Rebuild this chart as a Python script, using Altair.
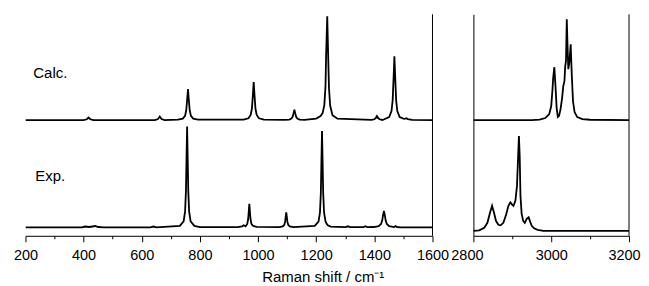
import altair as alt
import pandas as pd

FONT = "Liberation Sans"

# ---- Calculated spectrum, 200-1600 cm-1 (offset trace) ----
calc_low_x = [200, 400, 411, 417, 423, 434,
              645, 656, 662, 668, 679,
              724, 741, 749, 753, 756, 759, 762, 765, 769, 777, 794,
              950, 967, 975, 979, 982, 985, 988, 991, 995, 1003, 1020,
              1090, 1107, 1115, 1119, 1122, 1125, 1128, 1131, 1135, 1143, 1160,
              1200, 1215, 1222, 1228, 1232, 1234, 1236, 1238, 1241, 1244, 1248, 1256, 1273,
              1390, 1400, 1405, 1409, 1413, 1418, 1428,
              1434, 1451, 1459, 1463, 1466, 1469, 1472, 1475, 1479, 1487, 1500,
              1505, 1510, 1515, 1530, 1600]
calc_low_y = [116, 116, 116.8, 118.5, 116.8, 116,
              116, 117, 119.5, 117, 116,
              116.4, 117.5, 120.3, 125.6, 135.8, 147, 135.8, 125.6, 120.3, 117.5, 116.4,
              116.5, 117.8, 121.3, 127.8, 140.3, 154, 140.3, 127.8, 121.3, 117.8, 116.5,
              116.1, 116.5, 117.5, 119.3, 122.7, 126.5, 122.7, 119.3, 117.5, 116.5, 116.1,
              117.5, 120, 123, 131, 150, 180, 200, 220, 182.6, 148, 130.6, 120.9, 117.4,
              116.1, 116.8, 118, 120, 118, 116.8, 116.1,
              116.8, 119, 125, 135.8, 157, 180, 157, 135.8, 125, 119, 117.5,
              117.3, 117.8, 117, 116.2, 116]

# ---- Experimental spectrum, 200-1600 cm-1 ----
exp_low_x = [200, 395, 405, 420, 440, 450, 470, 630, 640, 650,
             731, 744, 749, 752, 754, 756, 758, 760, 763, 768, 781,
             800, 930, 945, 951, 957,
             960, 963, 966, 968, 970, 972, 974, 977, 982, 995,
             1072, 1085, 1090, 1093, 1095, 1097, 1099, 1101, 1104, 1109, 1122,
             1195, 1208, 1213, 1216, 1218, 1220, 1222, 1224, 1227, 1232, 1236, 1240, 1250,
             1300, 1310, 1316, 1362, 1369, 1376,
             1398, 1415, 1423, 1427, 1430, 1433, 1436, 1439, 1443, 1451, 1468,
             1473, 1478, 1490, 1600]
exp_low_y = [8.5, 8.5, 9.3, 8.8, 9.8, 8.8, 8.5, 8.5, 9.3, 8.5,
             9.9, 14.5, 24.2, 44.9, 78.2, 109.5, 78.2, 44.9, 24.2, 14.5, 9.9,
             8.6, 8.6, 9.5, 10.5, 9.5,
             10.5, 12.1, 16.8, 24.4, 32, 24.4, 16.8, 12.1, 10, 8.9,
             8.7, 9.4, 10.8, 13.9, 18.9, 23.5, 18.9, 13.9, 10.8, 9.4, 8.7,
             10, 14.3, 23.5, 43.2, 75, 105, 75, 43.2, 23.5, 14.3, 12, 10.5, 9.2,
             8.6, 9.5, 8.6, 8.6, 9.6, 8.6,
             8.8, 9.7, 11.8, 15.3, 20.7, 25, 20.7, 15.3, 11.8, 9.7, 8.8,
             9.8, 8.8, 8.5, 8.5]

# ---- Calculated spectrum, 2800-3200 cm-1 ----
calc_high_x = [2800, 2950, 2970, 2985, 2995, 3000, 3003, 3005, 3008, 3011, 3014, 3017,
               3020, 3024, 3028, 3031, 3034, 3036, 3038, 3040, 3042, 3044, 3047, 3050,
               3053, 3056, 3060, 3067, 3080, 3100, 3200]
calc_high_y = [116, 116, 116.5, 118, 122, 130, 145, 158, 169, 150, 128, 119,
               120, 127, 138, 150, 155, 170, 175, 217, 190, 167, 175, 192,
               160, 135, 124, 119, 117, 116.3, 116]

# ---- Experimental spectrum, 2800-3200 cm-1 ----
exp_high_x = [2800, 2815, 2828, 2836, 2842, 2848, 2853, 2858, 2864, 2870, 2877, 2884,
              2890, 2895, 2900, 2903, 2908, 2912, 2915, 2917, 2919, 2921, 2924, 2928,
              2932, 2937, 2942, 2946, 2950, 2956, 2965, 2980, 3200]
exp_high_y = [5, 5.5, 8, 13, 22, 30, 23, 15, 11, 10.5, 13, 21,
              30, 33.5, 31, 30, 35, 50, 80, 100, 80, 40, 22, 15,
              13, 17, 18.5, 14, 10, 7.5, 6, 5, 5]

# ---- trace labels ----
label_text = ["Calc.", "Exp."]
label_x = [227, 234]
label_y = [158, 55]

low_major = [200, 400, 600, 800, 1000, 1200, 1400, 1600]
low_minor = [300, 500, 700, 900, 1100, 1300, 1500]
high_major = [2800, 3000, 3200]
high_minor = [2900, 3100]

H = 222
Y_DOMAIN = [0, 222]
LABEL_SIZE = 14.5


def frame_df(xs, ys, name):
    return pd.DataFrame({"x": xs, "y": ys, "series": name})


def panel(data, domain, major, minor, width, title=None, labels=None, label_offset=0):
    scale = alt.Scale(domain=domain, nice=False, zero=False)
    yscale = alt.Scale(domain=Y_DOMAIN, nice=False, zero=False)
    axis_kwargs = dict(values=major, format="d", tickSize=6, labelPadding=7,
                       grid=False, labelFlush=False, orient="bottom",
                       labelFont=FONT, labelFontSize=LABEL_SIZE, labelColor="black",
                       domainColor="black", tickColor="black",
                       labelOffset=label_offset)
    if title:
        axis_kwargs.update(title=title, titleX=298, titleY=46, titleAlign="center",
                           titleAnchor="start",
                           titleBaseline="alphabetic", titleFontSize=15,
                           titleFontWeight="normal", titleFont=FONT, titleColor="black")
    else:
        axis_kwargs.update(title=None)
    lines = alt.Chart(data).mark_line(color="black", strokeWidth=1.8, clip=True).encode(
        x=alt.X("x:Q", scale=scale, axis=alt.Axis(**axis_kwargs)),
        y=alt.Y("y:Q", scale=yscale,
                axis=alt.Axis(title=None, labels=False, ticks=False, grid=False,
                              domain=True, domainColor="black")),
        detail="series:N",
    )
    minor_layer = alt.Chart(pd.DataFrame({"x": minor})).mark_point(opacity=0).encode(
        x=alt.X("x:Q", scale=scale,
                axis=alt.Axis(values=minor, labels=False, domain=False, tickSize=3,
                              orient="bottom", offset=0,
                              tickColor="black", title=None, grid=False)),
    )
    right_edge = alt.Chart(pd.DataFrame({"a": [0]})).mark_rule(color="black", strokeWidth=1).encode(
        x=alt.value(width), y=alt.value(0), y2=alt.value(H)
    )
    layers = [lines, minor_layer, right_edge]
    if labels is not None:
        txt = alt.Chart(labels).mark_text(align="left", baseline="alphabetic",
                                          fontSize=15, font=FONT, color="black").encode(
            x=alt.X("x:Q", scale=scale, axis=None),
            y=alt.Y("y:Q", scale=yscale, axis=None),
            text="label:N",
        )
        layers.append(txt)
    return alt.layer(*layers).resolve_axis(x="independent").properties(width=width, height=H)


low = pd.concat([frame_df(calc_low_x, calc_low_y, "Calc."),
                 frame_df(exp_low_x, exp_low_y, "Exp.")])
high = pd.concat([frame_df(calc_high_x, calc_high_y, "Calc."),
                  frame_df(exp_high_x, exp_high_y, "Exp.")])
labels_df = pd.DataFrame({"label": label_text, "x": label_x, "y": label_y})

left = panel(low, [200, 1600], low_major, low_minor, 408,
             title="Raman shift / cm\u207b\u00b9", labels=labels_df)
right = panel(high, [2800, 3200], high_major, high_minor, 156,
              label_offset={"condition": [{"test": "datum.value === 2800", "value": -6.5},
                                          {"test": "datum.value === 3200", "value": -5}],
                            "value": 0})

chart = alt.hconcat(left, right, spacing=41, bounds="flush").properties(
    padding={"left": 4.5, "top": 5, "right": 0, "bottom": 0}
).configure_view(
    stroke=None
).configure_axis(
    labelFont=FONT, labelFontSize=LABEL_SIZE, labelColor="black",
    domainColor="black", domainWidth=1, tickColor="black", tickWidth=1,
)

chart.save("out.html", embed_options={"renderer": "svg", "actions": False})
